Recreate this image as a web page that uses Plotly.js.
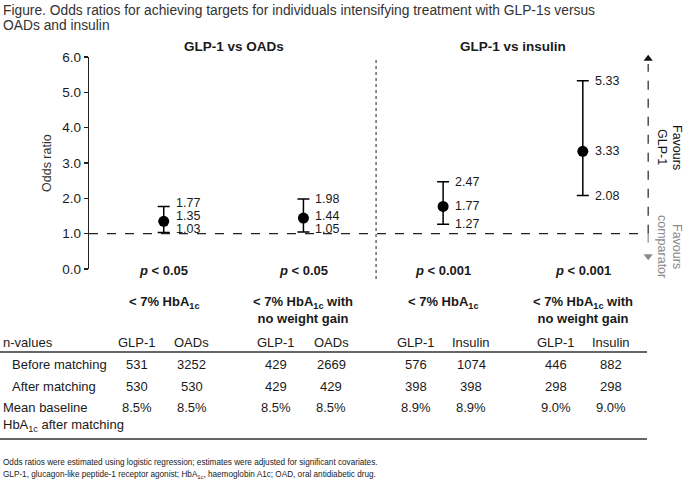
<!DOCTYPE html>
<html>
<head>
<meta charset="utf-8">
<script src="https://cdn.plot.ly/plotly-3.0.1.min.js"></script>
<style>html,body{margin:0;padding:0;background:#fff;}#chart{width:685px;height:485px;}</style>
</head>
<body>
<div id="chart"></div>
<script>
// ---- data ----
var groups = ['GLP-1 vs OADs', 'GLP-1 vs insulin'];
var outcomes = ['&lt; 7% HbA<sub>1c</sub>', '&lt; 7% HbA<sub>1c</sub> with<br>no weight gain', '&lt; 7% HbA<sub>1c</sub>', '&lt; 7% HbA<sub>1c</sub> with<br>no weight gain'];
var oddsRatio = [1.35, 1.44, 1.77, 3.33];
var ciLow = [1.03, 1.05, 1.27, 2.08];
var ciHigh = [1.77, 1.98, 2.47, 5.33];
var pValues = ['0.05', '0.05', '0.001', '0.001'];
var comparator = ['OADs', 'OADs', 'Insulin', 'Insulin'];
var nBeforeGLP = [531, 429, 576, 446];
var nBeforeComp = [3252, 2669, 1074, 882];
var nAfterGLP = [530, 429, 398, 298];
var nAfterComp = [530, 429, 398, 298];
var baselineGLP = [8.5, 8.5, 8.9, 9.0];
var baselineComp = [8.5, 8.5, 8.9, 9.0];
var yTicks = [0, 1, 2, 3, 4, 5, 6];

// ---- layout helpers ----
var W = 685, H = 485, ML = 89, MR = 35, MT = 57, MB = 216;
var PW = W - ML - MR, PH = H - MT - MB;
var YMAX = 6;
function P(py) { return (H - MB - py) / PH; }       // pixel y -> paper y
function X(px) { return (px - ML) / PW; }           // pixel x -> paper x
function pyOf(v) { return H - MB - v / YMAX * PH; } // data y -> pixel y

var FONT = 'Arial, "Liberation Sans", Helvetica, sans-serif';
var TXT = '#1a1a1a';
var xs = oddsRatio.map(function (_, i) { return i + 1; });

var traces = [{
  type: 'scatter', mode: 'markers', x: xs, y: oddsRatio, cliponaxis: false,
  marker: { size: 11, color: '#000' },
  error_y: {
    type: 'data', symmetric: false,
    array: ciHigh.map(function (h, i) { return h - oddsRatio[i]; }),
    arrayminus: ciLow.map(function (l, i) { return oddsRatio[i] - l; }),
    color: '#000', thickness: 1.5, width: 6
  },
  hoverinfo: 'skip', showlegend: false
}, {
  type: 'scatter', mode: 'markers', x: [4.468, 4.468], y: [5.95, 0.36], cliponaxis: false,
  marker: { symbol: ['triangle-up', 'triangle-down'], size: 8, color: ['#111', '#8a8a8a'] },
  hoverinfo: 'skip', showlegend: false
}];

var ann = [];
function A(o) {
  o.showarrow = false;
  if (!o.xanchor) o.xanchor = 'center';
  if (!o.yanchor) o.yanchor = 'middle';
  o.font = Object.assign({ family: FONT, size: 13, color: TXT }, o.font || {});
  ann.push(o);
}

// title (two lines)
A({ xref: 'paper', yref: 'paper', x: X(1), y: P(10), xanchor: 'left',
    text: 'Figure. Odds ratios for achieving targets for individuals intensifying treatment with GLP-1s versus',
    font: { size: 13.8, color: '#333' } });
A({ xref: 'paper', yref: 'paper', x: X(1), y: P(25), xanchor: 'left',
    text: 'OADs and insulin', font: { size: 13.8, color: '#333' } });

// y axis title
A({ xref: 'paper', yref: 'paper', x: X(47), y: 0.5, textangle: -90, text: 'Odds ratio', font: { size: 12.5, color: '#333' } });

// group headers
A({ xref: 'x', yref: 'paper', x: 1.5, y: P(47), text: '<b>' + groups[0] + '</b>', font: { size: 13.5 } });
A({ xref: 'x', yref: 'paper', x: 3.5, y: P(47), text: '<b>' + groups[1] + '</b>', font: { size: 13.5 } });

// value labels with de-overlap
var GAP = 13;
for (var i = 0; i < xs.length; i++) {
  var pl = pyOf(ciLow[i]), pm = pyOf(oddsRatio[i]), ph = pyOf(ciHigh[i]);
  var nl = Math.min(pl, pyOf(1) - 5);
  var nm = Math.min(pm, nl - GAP);
  var nh = Math.min(ph, nm - GAP);
  [[ciHigh[i], ph, nh], [oddsRatio[i], pm, nm], [ciLow[i], pl, nl]].forEach(function (t) {
    A({ xref: 'x', yref: 'y', x: xs[i], y: t[0], xanchor: 'left', xshift: 10,
        yshift: t[1] - t[2], text: t[0].toFixed(2), font: { size: 12.5 } });
  });
  // p values
  A({ xref: 'x', yref: 'paper', x: xs[i], y: P(270),
      text: '<b><i>p</i> &lt; ' + pValues[i] + '</b>', font: { size: 13 } });
  // outcome labels
  A({ xref: 'x', yref: 'paper', x: xs[i], y: P(292), yanchor: 'top', text: '<b>' + outcomes[i] + '</b>', font: { size: 13 } });
  // table columns
  var rows = [[342, 'GLP-1', comparator[i]], [364, nBeforeGLP[i], nBeforeComp[i]],
              [386, nAfterGLP[i], nAfterComp[i]], [407, baselineGLP[i].toFixed(1) + '%', baselineComp[i].toFixed(1) + '%']];
  rows.forEach(function (r) {
    A({ xref: 'x', yref: 'paper', x: xs[i], xshift: -27, y: P(r[0]), text: String(r[1]) });
    A({ xref: 'x', yref: 'paper', x: xs[i], xshift: 28, y: P(r[0]), text: String(r[2]) });
  });
}

// row labels
A({ xref: 'paper', yref: 'paper', x: X(1), y: P(342), xanchor: 'left', text: 'n-values' });
A({ xref: 'paper', yref: 'paper', x: X(10), y: P(364), xanchor: 'left', text: 'Before matching' });
A({ xref: 'paper', yref: 'paper', x: X(10), y: P(386), xanchor: 'left', text: 'After matching' });
A({ xref: 'paper', yref: 'paper', x: X(1), y: P(398), xanchor: 'left', yanchor: 'top', align: 'left',
    text: 'Mean baseline<br>HbA<sub>1c</sub> after matching' });

// favours labels (one annotation per rotated line)
A({ xref: 'paper', yref: 'paper', x: X(677), y: P(147), textangle: 90, text: 'Favours', font: { size: 12.5, color: '#111' } });
A({ xref: 'paper', yref: 'paper', x: X(662), y: P(147), textangle: 90, text: 'GLP-1', font: { size: 12.5, color: '#111' } });
A({ xref: 'paper', yref: 'paper', x: X(677), y: P(246), textangle: 90, text: 'Favours', font: { size: 12.5, color: '#8a8a8a' } });
A({ xref: 'paper', yref: 'paper', x: X(662), y: P(246), textangle: 90, text: 'comparator', font: { size: 12.5, color: '#8a8a8a' } });

// footnotes
A({ xref: 'paper', yref: 'paper', x: X(1), y: P(462), xanchor: 'left',
    text: 'Odds ratios were estimated using logistic regression; estimates were adjusted for significant covariates.', font: { size: 8.2 } });
A({ xref: 'paper', yref: 'paper', x: X(1), y: P(475), xanchor: 'left',
    text: 'GLP-1, glucagon-like peptide-1 receptor agonist; HbA<sub>1c</sub>, haemoglobin A1c; OAD, oral antidiabetic drug.', font: { size: 8.2 } });

var shapes = [
  { type: 'line', xref: 'paper', yref: 'y', x0: 0, x1: X(647), y0: 1, y1: 1, line: { color: '#222', width: 1.2, dash: 'dash' } },
  { type: 'line', xref: 'x', yref: 'paper', x0: 2.52, x1: 2.52, y0: P(279), y1: 1, line: { color: '#444', width: 1.2, dash: 'dot' } },
  { type: 'line', xref: 'x', yref: 'y', x0: 4.468, x1: 4.468, y0: 1, y1: 5.8, line: { color: '#222', width: 1.2, dash: 'dash' } },
  { type: 'line', xref: 'x', yref: 'y', x0: 4.468, x1: 4.468, y0: 1, y1: 0.5, line: { color: '#8a8a8a', width: 1.2, dash: 'dash' } },
  { type: 'line', xref: 'paper', yref: 'paper', x0: X(0), x1: X(647), y0: P(352), y1: P(352), line: { color: '#333', width: 1.5 } },
  { type: 'line', xref: 'paper', yref: 'paper', x0: X(0), x1: X(647), y0: P(439), y1: P(439), line: { color: '#333', width: 1.5 } }
];

var layout = {
  width: W, height: H,
  margin: { l: ML, r: MR, t: MT, b: MB, pad: 0 },
  paper_bgcolor: '#fff', plot_bgcolor: 'rgba(0,0,0,0)',
  font: { family: FONT, size: 13, color: TXT },
  showlegend: false,
  xaxis: { range: [0.465, 4.481], visible: false, fixedrange: true },
  yaxis: {
    range: [0, YMAX], tickvals: yTicks, ticktext: yTicks.map(function (v) { return v.toFixed(1); }),
    ticks: 'outside', ticklen: 4, tickwidth: 1.2, tickcolor: '#222',
    showline: true, linecolor: '#222', linewidth: 1.2, showgrid: false, zeroline: false,
    tickfont: { size: 13.5, color: TXT }, fixedrange: true
  },
  shapes: shapes,
  annotations: ann
};

Plotly.newPlot('chart', traces, layout, { displayModeBar: false, staticPlot: true });
</script>
</body>
</html>
